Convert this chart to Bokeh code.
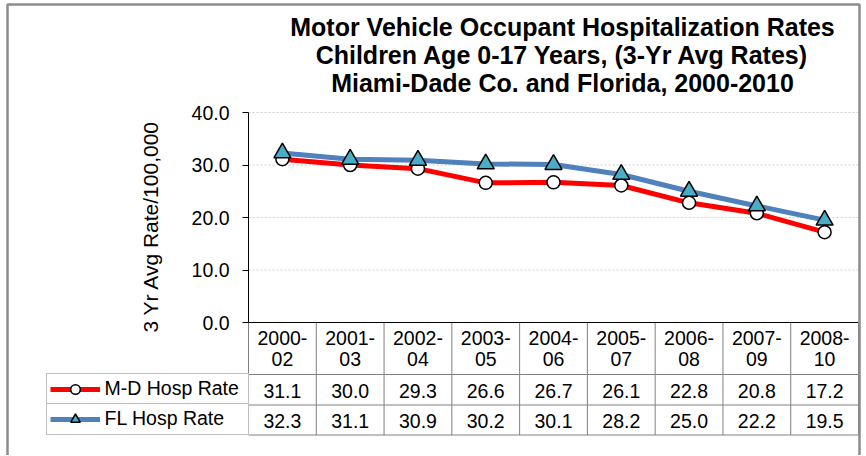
import numpy as np
from bokeh.plotting import figure
from bokeh.models import (Range1d, FixedTicker, NumeralTickFormatter, Label, Legend,
                          LegendItem, ColumnDataSource)
from bokeh.core.properties import value
from bokeh.embed import file_html
from bokeh.resources import INLINE

# ---------------- data ----------------
periods = ["2000-02", "2001-03", "2002-04", "2003-05", "2004-06",
           "2005-07", "2006-08", "2007-09", "2008-10"]
md_rate = [31.1, 30.0, 29.3, 26.6, 26.7, 26.1, 22.8, 20.8, 17.2]
fl_rate = [32.3, 31.1, 30.9, 30.2, 30.1, 28.2, 25.0, 22.2, 19.5]
y_ticks = [0, 10, 20, 30, 40]
series_names = ["M-D Hosp Rate", "FL Hosp Rate"]
title_lines = ["Motor Vehicle Occupant Hospitalization Rates",
               "Children Age 0-17 Years, (3-Yr Avg Rates)",
               "Miami-Dade Co. and Florida, 2000-2010"]
y_title = "3 Yr Avg Rate/100,000"

# ---------------- layout constants (page pixels) ----------------
FONT = "Liberation Sans"
W, H = 862, 455
AX_X, RIGHT_X = 248, 858        # plot area left / right edge
Y0_PY, YTOP_PY = 322, 112       # pixel of value 0 and of top tick
n = len(periods)
colw = (RIGHT_X - AX_X) / n
pxu = (Y0_PY - YTOP_PY) / max(y_ticks)

def xd(px):
    return (px - AX_X) / colw

def yd(py):
    return (Y0_PY - py) / pxu

p = figure(width=W, height=H, output_backend="svg", toolbar_location=None,
           x_range=Range1d(xd(0), xd(W)), y_range=Range1d(yd(H), yd(0)),
           x_axis_location=None,
           min_border_left=0, min_border_right=0, min_border_top=0, min_border_bottom=0,
           background_fill_color="white", border_fill_color="white")
p.outline_line_color = None
p.xgrid.visible = False
p.ygrid.visible = False

ax = p.yaxis[0]
ax.fixed_location = 0
ax.ticker = FixedTicker(ticks=y_ticks)
ax.bounds = (min(y_ticks), max(y_ticks))
ax.formatter = NumeralTickFormatter(format="0.0")
ax.major_tick_in = 0
ax.major_tick_out = 6
ax.minor_tick_in = 0
ax.minor_tick_out = 0
ax.axis_line_color = "black"
ax.major_tick_line_color = "black"
ax.major_label_standoff = 13
ax.major_label_text_font = FONT
ax.major_label_text_font_size = "19.5px"
ax.major_label_text_color = "black"

# horizontal gridlines
gl = y_ticks[1:]
p.segment(x0=[0] * len(gl), x1=[n] * len(gl), y0=gl, y1=gl,
          line_color="#cfcfcf", line_width=1, line_dash="2 2")

# ---------------- series ----------------
x = np.arange(n) + 0.5
src = ColumnDataSource(dict(x=x, md=md_rate, fl=fl_rate))
r_md_line = p.line("x", "md", source=src, line_color="#FF0000", line_width=5)
r_md_pts = p.scatter("x", "md", source=src, marker="circle", size=13,
                     fill_color="white", line_color="black", line_width=1.5)
r_fl_line = p.line("x", "fl", source=src, line_color="#4F81BD", line_width=5)
r_fl_pts = p.scatter("x", "fl", source=src, marker="triangle", size=17,
                     fill_color="#4BACC6", line_color="black", line_width=1.5)

# ---------------- data table ----------------
GRAY = "#808080"
y_bot = yd(434.5)
row_lines = [yd(374), yd(404.5), y_bot]
p.segment(x0=[0] * 3, x1=[n] * 3, y0=row_lines, y1=row_lines,
          line_color=GRAY, line_width=1)
p.segment(x0=list(range(n + 1)), x1=list(range(n + 1)), y0=[0] * (n + 1),
          y1=[y_bot] * (n + 1), line_color=GRAY, line_width=1)
p.segment(x0=[0], x1=[n], y0=[0], y1=[0], line_color="black", line_width=1)

head1 = [s.split("-")[0] + "-" for s in periods]
head2 = [s.split("-")[1] for s in periods]
tsrc = ColumnDataSource(dict(x=x, h1=head1, h2=head2,
                             md=["%.1f" % v for v in md_rate],
                             fl=["%.1f" % v for v in fl_rate]))
for col, yy in (("h1", 337.5), ("h2", 358.5), ("md", 390), ("fl", 420)):
    p.text("x", yd(yy), text=col, source=tsrc, text_align="center",
           text_baseline="middle", text_font=value(FONT),
           text_font_size="19.5px", text_color="black")

# legend cells (left column of the table)
for name, rs, bottom_py in ((series_names[0], [r_md_line, r_md_pts], 404.5),
                            (series_names[1], [r_fl_line, r_fl_pts], 434.5)):
    leg = Legend(items=[LegendItem(label=name, renderers=rs)],
                 location=(45.5, H - bottom_py),
                 padding=3, spacing=0, margin=0,
                 glyph_width=50, glyph_height=24, label_height=24,
                 label_width=140, label_standoff=5,
                 border_line_color=GRAY, border_line_width=1,
                 background_fill_color="white", background_fill_alpha=1,
                 label_text_font=FONT, label_text_font_size="19.5px",
                 label_text_color="black")
    p.add_layout(leg)

# ---------------- titles ----------------
for line, yy in zip(title_lines, (26, 54.5, 82.5)):
    p.add_layout(Label(x=xd(562), y=yd(yy), text=line, text_align="center",
                       text_baseline="middle", text_font=FONT,
                       text_font_size="25px", text_font_style="bold",
                       text_color="black"))
p.add_layout(Label(x=xd(150), y=yd(226), text=y_title, angle=np.pi / 2,
                   text_align="center", text_baseline="middle", text_font=FONT,
                   text_font_size="21px", text_color="black"))

# outer chart border (its bottom edge lies below the visible page)
p.quad(left=[xd(7)], right=[xd(859)], top=[yd(4)], bottom=[yd(H + 10)],
       fill_color=None, line_color="#8c8c8c", line_width=2.5)

open("out.html", "w").write(file_html(p, INLINE))
